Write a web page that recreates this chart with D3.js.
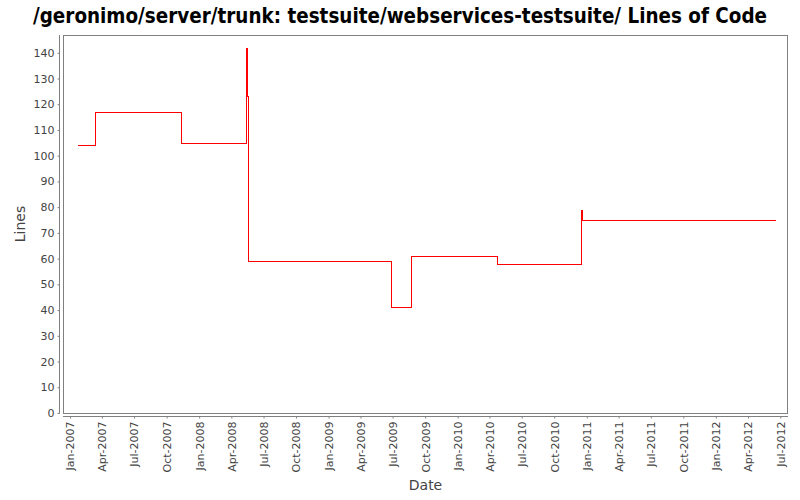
<!DOCTYPE html>
<html>
<head>
<meta charset="utf-8">
<script src="https://cdn.jsdelivr.net/npm/d3@7"></script>
<style>
  body { margin: 0; background: #fff; }
  svg { display: block; }
</style>
</head>
<body>
<svg id="chart" width="800" height="500"></svg>
<script>
// ---- data ----
const dates = ["2007-01-20","2007-03-12","2007-11-11","2008-05-12","2008-05-15","2008-05-18",
               "2009-06-27","2009-08-22","2010-04-23","2010-12-16","2010-12-19","2012-06-16"];
const lines = [104, 117, 105, 142, 123, 59, 41, 61, 58, 79, 75, 75];
const yTicks = [0,10,20,30,40,50,60,70,80,90,100,110,120,130,140];
const xTickLabels = ["Jan-2007","Apr-2007","Jul-2007","Oct-2007","Jan-2008","Apr-2008","Jul-2008","Oct-2008",
  "Jan-2009","Apr-2009","Jul-2009","Oct-2009","Jan-2010","Apr-2010","Jul-2010","Oct-2010",
  "Jan-2011","Apr-2011","Jul-2011","Oct-2011","Jan-2012","Apr-2012","Jul-2012"];
const titleText = "/geronimo/server/trunk: testsuite/webservices-testsuite/ Lines of Code";

// ---- layout ----
const svg = d3.select("#chart");
const L = 63, R = 788, T = 35, B = 413;
const parse = d3.timeParse("%Y-%m-%d");
const monthParse = d3.timeParse("%b-%Y");
const data = dates.map((d, i) => ({ date: parse(d), v: lines[i] }));

const x = d3.scaleTime()
  .domain([parse("2006-12-12"), parse("2012-07-23")])
  .range([L, R]);
const y = d3.scaleLinear().domain([0, 146.9]).range([B, T]);

const gray = "#808080";
const textCol = "#444";

// title
svg.append("text")
  .attr("x", 400).attr("y", 23)
  .attr("text-anchor", "middle")
  .attr("font-family", "DejaVu Sans Condensed, DejaVu Sans, sans-serif")
  .attr("font-weight", "bold")
  .attr("font-size", 21)
  .attr("textLength", 734)
  .attr("lengthAdjust", "spacingAndGlyphs")
  .attr("fill", "#000")
  .text(titleText);

// plot border
svg.append("rect")
  .attr("x", L + 0.5).attr("y", T + 0.5)
  .attr("width", R - L - 1).attr("height", B - T)
  .attr("fill", "#fff").attr("stroke", gray).attr("stroke-width", 1);

// y axis
const yAxis = d3.axisLeft(y).tickValues(yTicks).tickSize(2).tickPadding(3);
const gy = svg.append("g").attr("transform", "translate(59.5,0)").call(yAxis);
gy.select(".domain").attr("stroke", gray).attr("d", `M0,${T}V${B + 0.5}`);
gy.selectAll(".tick line").attr("stroke", gray);
gy.selectAll(".tick text").attr("fill", textCol)
  .attr("font-family", "DejaVu Sans, sans-serif").attr("font-size", 11);

// x axis
const xTickDates = xTickLabels.map(s => monthParse(s));
const xAxis = d3.axisBottom(x).tickValues(xTickDates).tickSize(2)
  .tickFormat(d3.timeFormat("%b-%Y"));
const gx = svg.append("g").attr("transform", "translate(0,416.5)").call(xAxis);
gx.select(".domain").attr("stroke", gray).attr("d", `M${L},0H${R}`);
gx.selectAll(".tick line").attr("stroke", gray);
gx.selectAll(".tick text")
  .attr("fill", textCol)
  .attr("font-family", "DejaVu Sans, sans-serif").attr("font-size", 11)
  .attr("text-anchor", "end")
  .attr("transform", "rotate(-90)")
  .attr("x", -5).attr("y", 0).attr("dy", "0.35em");

// axis labels
svg.append("text")
  .attr("x", (L + R) / 2).attr("y", 490)
  .attr("text-anchor", "middle")
  .attr("font-family", "DejaVu Sans, sans-serif").attr("font-size", 14)
  .attr("fill", textCol).text("Date");
svg.append("text")
  .attr("transform", `translate(25,${(T + B) / 2}) rotate(-90)`)
  .attr("text-anchor", "middle")
  .attr("font-family", "DejaVu Sans, sans-serif").attr("font-size", 14)
  .attr("fill", textCol).text("Lines");

// line
const line = d3.line()
  .x(d => Math.round(x(d.date)) + 0.5)
  .y(d => Math.round(y(d.v)) + 0.5)
  .curve(d3.curveStepAfter);
svg.append("path")
  .datum(data)
  .attr("d", line)
  .attr("fill", "none")
  .attr("stroke", "#ff0000")
  .attr("stroke-width", 1.2)
  .attr("shape-rendering", "crispEdges");
</script>
</body>
</html>
